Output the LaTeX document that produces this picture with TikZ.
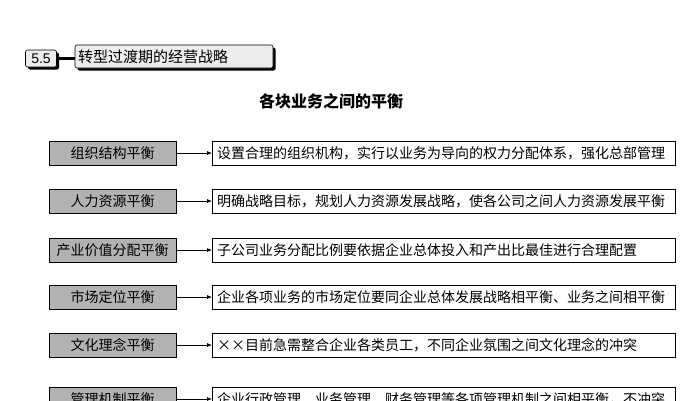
\documentclass[tikz,border=0pt]{standalone}
\usepackage{fontspec}
\setmainfont{Liberation Sans}
\newfontfamily\cjk{Noto Sans CJK SC}
\usetikzlibrary{arrows.meta,shadows}

\begin{document}
\begin{tikzpicture}[x=1pt, y=-1pt,
    leftbox/.style={draw, fill=gray!60, minimum width=127pt, minimum height=24pt,
        inner sep=0pt, font=\cjk\fontsize{14}{16}\selectfont},
    rightbox/.style={draw, fill=white, anchor=west, text width=453pt, align=left,
        minimum height=24pt, inner sep=5pt, font=\cjk\fontsize{14}{16}\selectfont},
    link/.style={-{Latex[length=5pt,width=4pt]}, line width=0.7pt},
    tabbox/.style={draw, fill=gray!15, rounded corners=2pt, line width=0.6pt,
        drop shadow={opacity=1, fill=black, shadow xshift=2.5pt, shadow yshift=-2.5pt}}]
    \useasboundingbox (0,0) rectangle (694,400);
    \clip (0,0) rectangle (694,400);
    \fill[white] (0,0) rectangle (694,400);

    % header
    \node[tabbox, minimum width=31pt, minimum height=17pt, inner sep=0pt,
        font=\fontsize{14}{16}\selectfont] (num) at (41,58.5) {5.5};
    \node[tabbox, minimum height=23pt, text width=192pt, inner sep=3pt, align=left,
        font=\cjk\fontsize{15}{17}\selectfont] (title) at (174,56.5) {转型过渡期的经营战略};
    \draw[line width=2.5pt] (num.east) -- (title.west |- num.east);

    \node[font=\cjk\bfseries\fontsize{16}{18}\selectfont] (head) at (331,101) {各块业务之间的平衡};

    % rows
    \node[leftbox] (org) at (112.5,153) {组织结构平衡};
    \node[rightbox] (orgtxt) at (212,153) {设置合理的组织机构，实行以业务为导向的权力分配体系，强化总部管理};
    \draw[link] (org) -- (orgtxt);

    \node[leftbox] (hr) at (112.5,201) {人力资源平衡};
    \node[rightbox] (hrtxt) at (212,201) {明确战略目标，规划人力资源发展战略，使各公司之间人力资源发展平衡};
    \draw[link] (hr) -- (hrtxt);

    \node[leftbox] (val) at (112.5,250) {产业价值分配平衡};
    \node[rightbox] (valtxt) at (212,250) {子公司业务分配比例要依据企业总体投入和产出比最佳进行合理配置};
    \draw[link] (val) -- (valtxt);

    \node[leftbox] (mkt) at (112.5,297) {市场定位平衡};
    \node[rightbox] (mkttxt) at (212,297) {企业各项业务的市场定位要同企业总体发展战略相平衡、业务之间相平衡};
    \draw[link] (mkt) -- (mkttxt);

    \node[leftbox] (cul) at (112.5,345) {文化理念平衡};
    \node[rightbox] (cultxt) at (212,345) {××目前急需整合企业各类员工，不同企业氛围之间文化理念的冲突};
    \draw[link] (cul) -- (cultxt);

    \node[leftbox] (mgt) at (112.5,399) {管理机制平衡};
    \node[rightbox] (mgttxt) at (212,399) {企业行政管理、业务管理、财务管理等各项管理机制之间相平衡，不冲突};
    \draw[link] (mgt) -- (mgttxt);
\end{tikzpicture}
\end{document}
